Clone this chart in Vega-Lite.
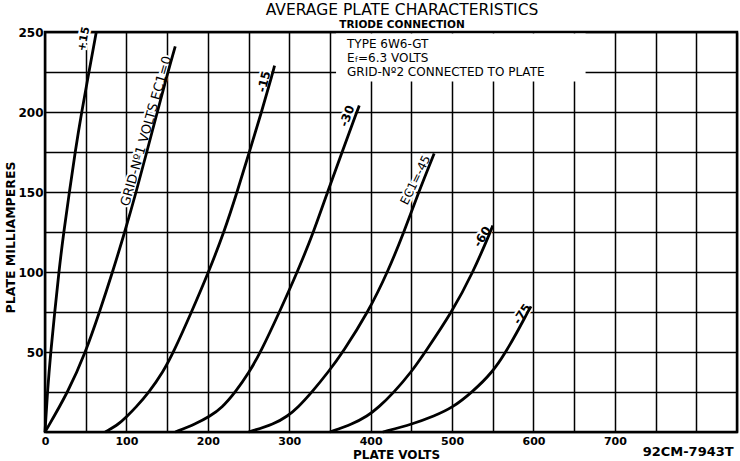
{
  "$schema": "https://vega.github.io/schema/vega-lite/v6.json",
  "width": 692,
  "height": 400,
  "autosize": {"type": "none"},
  "padding": {"left": 45, "top": 32, "right": 3, "bottom": 29},
  "background": "white",
  "config": {
    "font": "DejaVu Sans",
    "view": {"stroke": "black", "strokeWidth": 2.5},
    "text": {"color": "black"}
  },
  "title": {
    "text": "AVERAGE PLATE CHARACTERISTICS",
    "subtitle": "TRIODE CONNECTION",
    "anchor": "middle",
    "dx": 11,
    "offset": -4.5,
    "font": "DejaVu Sans",
    "fontSize": 15.5,
    "fontWeight": "normal",
    "color": "black",
    "subtitleFont": "DejaVu Sans",
    "subtitleFontSize": 10.5,
    "subtitleFontWeight": "bold",
    "subtitleColor": "black",
    "subtitlePadding": 1
  },
  "datasets": {
    "curves": [
      {"g": "+15", "v": 0, "i": 0}, {"g": "+15", "v": 3, "i": 25}, {"g": "+15", "v": 7, "i": 50}, {"g": "+15", "v": 12, "i": 75}, {"g": "+15", "v": 17, "i": 100}, {"g": "+15", "v": 23, "i": 125}, {"g": "+15", "v": 30, "i": 150}, {"g": "+15", "v": 37, "i": 175}, {"g": "+15", "v": 45, "i": 200}, {"g": "+15", "v": 54, "i": 225}, {"g": "+15", "v": 63, "i": 250},
      {"g": "0", "v": 0, "i": 0}, {"g": "0", "v": 28.5, "i": 25}, {"g": "0", "v": 50, "i": 50}, {"g": "0", "v": 67, "i": 75}, {"g": "0", "v": 83, "i": 100}, {"g": "0", "v": 98, "i": 125}, {"g": "0", "v": 112, "i": 150}, {"g": "0", "v": 125, "i": 175}, {"g": "0", "v": 138, "i": 200}, {"g": "0", "v": 151, "i": 225}, {"g": "0", "v": 160, "i": 241},
      {"g": "-15", "v": 74, "i": 0}, {"g": "-15", "v": 91, "i": 5}, {"g": "-15", "v": 101, "i": 10}, {"g": "-15", "v": 111, "i": 15}, {"g": "-15", "v": 128, "i": 25}, {"g": "-15", "v": 145, "i": 37.5}, {"g": "-15", "v": 158, "i": 50}, {"g": "-15", "v": 180, "i": 75}, {"g": "-15", "v": 201, "i": 100}, {"g": "-15", "v": 220, "i": 125}, {"g": "-15", "v": 236, "i": 150}, {"g": "-15", "v": 251, "i": 175}, {"g": "-15", "v": 266, "i": 200}, {"g": "-15", "v": 280, "i": 225}, {"g": "-15", "v": 282, "i": 229},
      {"g": "-30", "v": 160, "i": 0}, {"g": "-30", "v": 185, "i": 5}, {"g": "-30", "v": 203, "i": 10}, {"g": "-30", "v": 217, "i": 15}, {"g": "-30", "v": 234, "i": 25}, {"g": "-30", "v": 251, "i": 37.5}, {"g": "-30", "v": 265, "i": 50}, {"g": "-30", "v": 288, "i": 75}, {"g": "-30", "v": 310, "i": 100}, {"g": "-30", "v": 330, "i": 125}, {"g": "-30", "v": 347, "i": 150}, {"g": "-30", "v": 365, "i": 175}, {"g": "-30", "v": 383, "i": 200}, {"g": "-30", "v": 386, "i": 204},
      {"g": "-45", "v": 250, "i": 0}, {"g": "-45", "v": 282, "i": 5}, {"g": "-45", "v": 298, "i": 10}, {"g": "-45", "v": 310, "i": 15}, {"g": "-45", "v": 328, "i": 25}, {"g": "-45", "v": 348, "i": 37.5}, {"g": "-45", "v": 366, "i": 50}, {"g": "-45", "v": 397, "i": 75}, {"g": "-45", "v": 421, "i": 100}, {"g": "-45", "v": 441, "i": 125}, {"g": "-45", "v": 459, "i": 150}, {"g": "-45", "v": 478, "i": 174},
      {"g": "-60", "v": 350, "i": 0}, {"g": "-60", "v": 378, "i": 5}, {"g": "-60", "v": 396, "i": 10}, {"g": "-60", "v": 409, "i": 15}, {"g": "-60", "v": 429, "i": 25}, {"g": "-60", "v": 450, "i": 37.5}, {"g": "-60", "v": 467, "i": 50}, {"g": "-60", "v": 500, "i": 75}, {"g": "-60", "v": 526, "i": 100}, {"g": "-60", "v": 547, "i": 125}, {"g": "-60", "v": 550, "i": 129},
      {"g": "-75", "v": 415, "i": 0}, {"g": "-75", "v": 452, "i": 5}, {"g": "-75", "v": 478, "i": 10}, {"g": "-75", "v": 500, "i": 15}, {"g": "-75", "v": 525, "i": 25}, {"g": "-75", "v": 550, "i": 37.5}, {"g": "-75", "v": 566, "i": 50}, {"g": "-75", "v": 580, "i": 62.5}, {"g": "-75", "v": 593, "i": 75}, {"g": "-75", "v": 597, "i": 78.5}
    ],
    "box": [{"v": 357.5, "v2": 664, "i": 219, "i2": 249}],
    "notes": [
      {"v": 371, "i": 242.3, "t": "TYPE 6W6-GT"},
      {"v": 371, "i": 233.75, "t": "E"},
      {"v": 384.5, "i": 233.75, "t": "=6.3 VOLTS"},
      {"v": 371, "i": 225.2, "t": "GRID-Nº2 CONNECTED TO PLATE"}
    ],
    "sub": [{"v": 380.8, "i": 232.6, "t": "f"}],
    "code": [{"v": 790, "i": -12.5, "t": "92CM-7943T"}]
  },
  "encoding": {
    "x": {
      "field": "v",
      "type": "quantitative",
      "scale": {"domain": [0, 850], "nice": false, "zero": false},
      "axis": {
        "values": [0, 50, 100, 150, 200, 250, 300, 350, 400, 450, 500, 550, 600, 650, 700, 750, 800, 850],
        "labelExpr": "datum.value % 100 == 0 && datum.value <= 700 ? datum.label : ''",
        "grid": true, "gridColor": "black", "gridWidth": 1.5, "gridOpacity": 1,
        "ticks": false, "domain": false,
        "labelFont": "DejaVu Sans", "labelFontWeight": "bold", "labelFontSize": 11, "labelColor": "black",
        "labelPadding": 3, "labelOverlap": false, "labelFlush": false,
        "title": "PLATE VOLTS", "titleFont": "DejaVu Sans", "titleFontSize": 12, "titleFontWeight": "bold", "titleColor": "black",
        "titleX": 351, "titleY": 22.5, "titleBaseline": "middle", "titleAlign": "center"
      }
    },
    "y": {
      "field": "i",
      "type": "quantitative",
      "scale": {"domain": [0, 250], "nice": false, "zero": false},
      "axis": {
        "values": [0, 25, 50, 75, 100, 125, 150, 175, 200, 225, 250],
        "labelExpr": "datum.value % 50 == 0 && datum.value > 0 ? datum.label : ''",
        "grid": true, "gridColor": "black", "gridWidth": 1.5, "gridOpacity": 1,
        "ticks": false, "domain": false,
        "labelFont": "DejaVu Sans", "labelFontWeight": "bold", "labelFontSize": 12, "labelColor": "black",
        "labelPadding": 2, "labelOverlap": false, "labelFlush": false,
        "title": "PLATE MILLIAMPERES", "titleFont": "DejaVu Sans", "titleFontSize": 12.5, "titleFontWeight": "bold", "titleColor": "black",
        "titleX": -35, "titleY": 205, "titleAngle": -90, "titleBaseline": "middle", "titleAlign": "center"
      }
    }
  },
  "layer": [
    {"data": {"name": "box"}, "mark": {"type": "rect", "fill": "white", "strokeWidth": 0}, "encoding": {"x2": {"field": "v2"}, "y2": {"field": "i2"}}},
    {"data": {"values": [{"v": 48, "i": 245.6, "t": "+15"}]}, "mark": {"type": "text", "angle": -79, "fontSize": 11, "fontWeight": "bold", "stroke": "white", "strokeWidth": 4, "fill": "white"}, "encoding": {"text": {"field": "t"}}},
    {"data": {"values": [{"v": 124.5, "i": 188, "t": "GRID-Nº1 VOLTS EC1=0"}]}, "mark": {"type": "text", "angle": -74, "fontSize": 13, "stroke": "white", "strokeWidth": 4, "fill": "white"}, "encoding": {"text": {"field": "t"}}},
    {"data": {"values": [{"v": 269, "i": 219, "t": "-15"}]}, "mark": {"type": "text", "angle": -76, "fontSize": 12, "fontWeight": "bold", "stroke": "white", "strokeWidth": 4, "fill": "white"}, "encoding": {"text": {"field": "t"}}},
    {"data": {"values": [{"v": 371, "i": 197.5, "t": "-30"}]}, "mark": {"type": "text", "angle": -70, "fontSize": 12, "fontWeight": "bold", "stroke": "white", "strokeWidth": 4, "fill": "white"}, "encoding": {"text": {"field": "t"}}},
    {"data": {"values": [{"v": 455, "i": 157.5, "t": "EC1=-45"}]}, "mark": {"type": "text", "angle": -64, "fontSize": 12, "stroke": "white", "strokeWidth": 4, "fill": "white"}, "encoding": {"text": {"field": "t"}}},
    {"data": {"values": [{"v": 537, "i": 122, "t": "-60"}]}, "mark": {"type": "text", "angle": -58, "fontSize": 12, "fontWeight": "bold", "stroke": "white", "strokeWidth": 4, "fill": "white"}, "encoding": {"text": {"field": "t"}}},
    {"data": {"values": [{"v": 586, "i": 73.75, "t": "-75"}]}, "mark": {"type": "text", "angle": -56, "fontSize": 12, "fontWeight": "bold", "stroke": "white", "strokeWidth": 4, "fill": "white"}, "encoding": {"text": {"field": "t"}}},
    {"data": {"name": "curves"}, "mark": {"type": "line", "color": "black", "strokeWidth": 2.8, "interpolate": "basis"}, "encoding": {"detail": {"field": "g", "type": "nominal"}}},
    {"data": {"values": [{"v": 48, "i": 245.6, "t": "+15"}]}, "mark": {"type": "text", "angle": -79, "fontSize": 11, "fontWeight": "bold", "color": "black"}, "encoding": {"text": {"field": "t"}}},
    {"data": {"values": [{"v": 124.5, "i": 188, "t": "GRID-Nº1 VOLTS EC1=0"}]}, "mark": {"type": "text", "angle": -74, "fontSize": 13, "color": "black"}, "encoding": {"text": {"field": "t"}}},
    {"data": {"values": [{"v": 269, "i": 219, "t": "-15"}]}, "mark": {"type": "text", "angle": -76, "fontSize": 12, "fontWeight": "bold", "color": "black"}, "encoding": {"text": {"field": "t"}}},
    {"data": {"values": [{"v": 371, "i": 197.5, "t": "-30"}]}, "mark": {"type": "text", "angle": -70, "fontSize": 12, "fontWeight": "bold", "color": "black"}, "encoding": {"text": {"field": "t"}}},
    {"data": {"values": [{"v": 455, "i": 157.5, "t": "EC1=-45"}]}, "mark": {"type": "text", "angle": -64, "fontSize": 12, "color": "black"}, "encoding": {"text": {"field": "t"}}},
    {"data": {"values": [{"v": 537, "i": 122, "t": "-60"}]}, "mark": {"type": "text", "angle": -58, "fontSize": 12, "fontWeight": "bold", "color": "black"}, "encoding": {"text": {"field": "t"}}},
    {"data": {"values": [{"v": 586, "i": 73.75, "t": "-75"}]}, "mark": {"type": "text", "angle": -56, "fontSize": 12, "fontWeight": "bold", "color": "black"}, "encoding": {"text": {"field": "t"}}},
    {"data": {"name": "notes"}, "mark": {"type": "text", "align": "left", "baseline": "middle", "fontSize": 12, "color": "black"}, "encoding": {"text": {"field": "t"}}},
    {"data": {"name": "sub"}, "mark": {"type": "text", "align": "left", "baseline": "middle", "fontSize": 7.5, "color": "black"}, "encoding": {"text": {"field": "t"}}},
    {"data": {"name": "code"}, "mark": {"type": "text", "align": "center", "baseline": "middle", "fontSize": 13, "fontWeight": "bold", "color": "black"}, "encoding": {"text": {"field": "t"}}}
  ]
}
